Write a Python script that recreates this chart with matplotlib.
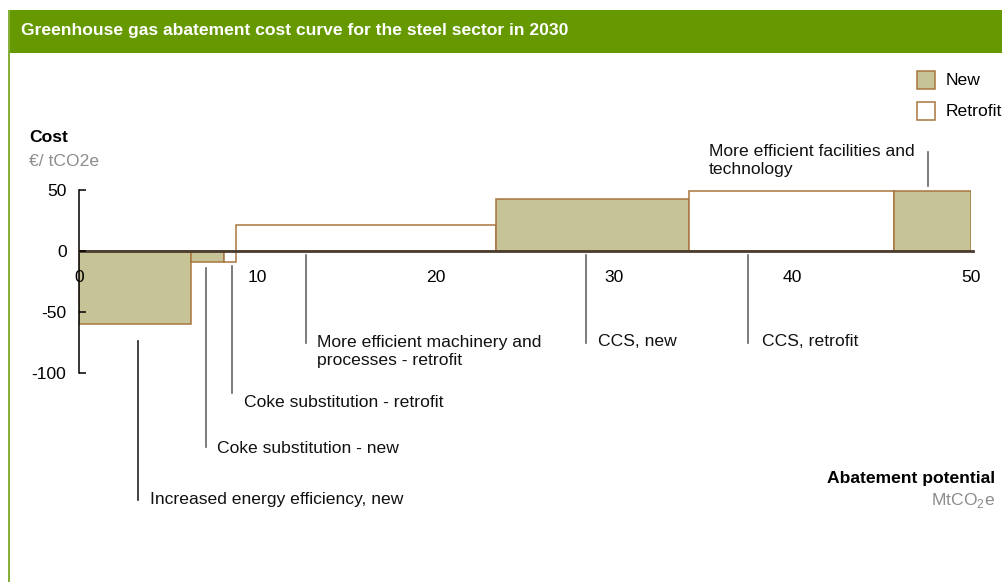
import numpy as np
import matplotlib
matplotlib.use('Agg')
import matplotlib.pyplot as plt
from matplotlib.patches import Rectangle

plt.rcParams['font.family'] = ['Liberation Sans', 'DejaVu Sans']
plt.rcParams['mathtext.fontset'] = 'custom'
plt.rcParams['mathtext.rm'] = 'Liberation Sans'

# abatement measures, in order along the curve
measures = ['Increased energy efficiency, new', 'Coke substitution - new',
            'Coke substitution - retrofit', 'More efficient machinery and\nprocesses - retrofit',
            'CCS, new', 'CCS, retrofit', 'More efficient facilities and\ntechnology']
kinds = ['New', 'New', 'Retrofit', 'Retrofit', 'New', 'Retrofit', 'New']
potential = [6.3, 1.8, 0.7, 14.6, 10.8, 11.5, 4.3]     # MtCO2e
cost = [-60, -9, -9, 21, 43, 49.5, 49.5]               # EUR / tCO2e
x_ticks = [0, 10, 20, 30, 40, 50]
y_ticks = [-100, -50, 0, 50]

# label layout: leader x, leader top, leader bottom, text x, text y (data units)
label_layout = [
    (3.3, -74, -204, 4.0, -204),
    (7.1, -14, -161, 7.75, -161.5),
    (8.6, -12, -116, 9.25, -124.5),
    (12.7, -3.5, -75.5, 13.35, -82.5),
    (28.4, -3.5, -75.5, 29.1, -74.5),
    (37.5, -3.5, -75.5, 38.3, -74.5),
    (47.6, 81, 53, 35.3, 74),
]

W, H = 1002, 582
NEW_FILL = '#c6c497'
EDGE = '#a8753f'
GREEN = '#669900'
FS = 12.6


def fx(x):
    return x / W


def fy(y):
    return 1 - y / H


fig = plt.figure(figsize=(W / 100, H / 100), dpi=100)

# frame: green header band and left border
fig.add_artist(Rectangle((fx(8), fy(53)), fx(W - 8), 43 / H, transform=fig.transFigure,
                         facecolor=GREEN, edgecolor='none'))
fig.add_artist(Rectangle((fx(7.5), 0), 2.5 / W, fy(10), transform=fig.transFigure,
                         facecolor='#86b03a', edgecolor='none'))
fig.text(fx(21), fy(31), 'Greenhouse gas abatement cost curve for the steel sector in 2030',
         color='white', fontsize=FS, fontweight='bold', va='center', ha='left')

# axes mapped so that x 0..50 -> px 79..971, y 0 at px 251 with 1.22 px per unit
y_top, y_bot = 100, -220
ppu = 1.22
top_px = 251 - y_top * ppu
bot_px = 251 - y_bot * ppu
ax = fig.add_axes([fx(79), 1 - bot_px / H, 892 / W, (bot_px - top_px) / H])
ax.set_xlim(0, 50)
ax.set_ylim(y_bot, y_top)
ax.patch.set_visible(False)
ax.set_axisbelow(False)

starts = np.concatenate([[0], np.cumsum(potential)[:-1]])
for s, w, c, k in zip(starts, potential, cost, kinds):
    ax.bar(s, c, width=w, align='edge', facecolor=NEW_FILL if k == 'New' else 'white',
           edgecolor=EDGE, linewidth=1.1, zorder=2)

ax.spines['top'].set_visible(False)
ax.spines['right'].set_visible(False)
ax.spines['bottom'].set_position(('data', 0))
ax.spines['bottom'].set_bounds(0, 50.1)
ax.spines['bottom'].set_color('#4a3c2e')
ax.spines['bottom'].set_linewidth(2)
ax.spines['bottom'].set_zorder(3)
ax.spines['left'].set_bounds(-100, 50)
ax.spines['left'].set_linewidth(1.1)
ax.spines['left'].set_zorder(3)

ax.set_xticks(x_ticks)
ax.set_xticklabels([str(t) for t in x_ticks])
ax.tick_params(axis='x', length=0, pad=14, labelsize=FS)
ax.set_yticks(y_ticks)
ax.set_yticklabels([str(t) for t in y_ticks])
ax.tick_params(axis='y', direction='in', length=5, width=1.1, pad=9, labelsize=FS)
ax.xaxis.set_zorder(4)
ax.yaxis.set_zorder(4)

for name, (lx, ly0, ly1, tx, ty) in zip(measures, label_layout):
    col = '#222222' if name.startswith('Increased') else '#666666'
    ax.plot([lx, lx], [ly0, ly1], color=col, linewidth=1.2, clip_on=False)
    ax.text(tx, ty, name, fontsize=FS, va='center', ha='left', linespacing=1.28,
            color='#111111', clip_on=False)

# axis titles
fig.text(fx(29), fy(138), 'Cost', fontsize=FS, fontweight='bold', va='center', ha='left')
fig.text(fx(29), fy(161), '€/ tCO2e', fontsize=FS, color='#8c8c8c', va='center', ha='left')
fig.text(fx(995), fy(479), 'Abatement potential', fontsize=FS, fontweight='bold',
         va='center', ha='right')
fig.text(fx(995), fy(500), r'MtCO$_\mathrm{2}$e', fontsize=FS, color='#8c8c8c',
         va='center', ha='right')

# legend
for i, (lab, fc) in enumerate([('New', NEW_FILL), ('Retrofit', 'white')]):
    ytop = 71 + i * 31
    fig.add_artist(Rectangle((fx(917), fy(ytop + 18)), 18 / W, 18 / H, transform=fig.transFigure,
                             facecolor=fc, edgecolor=EDGE, linewidth=1.1))
    fig.text(fx(946), fy(ytop + 10), lab, fontsize=FS, va='center', ha='left')

fig.savefig('out.png', dpi=100)
